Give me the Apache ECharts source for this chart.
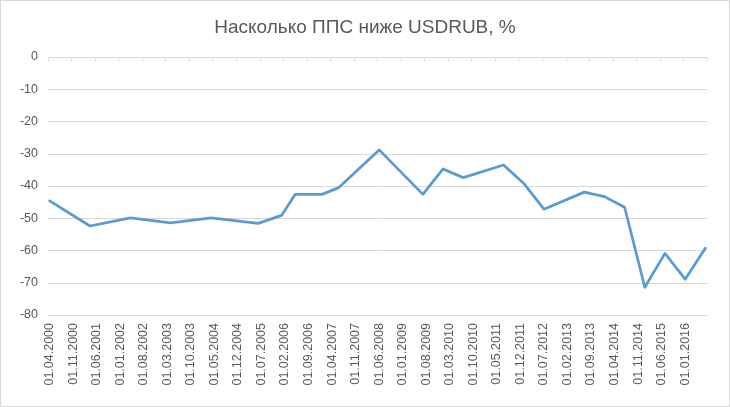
<!DOCTYPE html>
<html>
<head>
<meta charset="utf-8">
<script src="https://cdn.jsdelivr.net/npm/echarts@6/dist/echarts.min.js"></script>
<style>
html,body{margin:0;padding:0;background:#fff;}
#wrap{width:730px;height:407px;box-sizing:border-box;border:1px solid #d9d9d9;}
#chart{width:728px;height:405px;}
</style>
</head>
<body>
<div id="wrap"><div id="chart"></div></div>
<script>
// Axis: monthly slots from 2000-04 to 2016-07, label every 7 months
var axisStart = [2000, 4];
var axisMonths = 196;
var labelEvery = 7;
var pointDates = ["2000-04","2001-04","2002-04","2003-04","2004-04","2005-06","2006-01","2006-05",
  "2007-01","2007-06","2008-06","2009-07","2010-01","2010-07","2011-07","2012-01","2012-07",
  "2013-07","2014-01","2014-07","2015-01","2015-07","2016-01","2016-07"];
var values = [-44.6,-52.4,-49.9,-51.4,-49.9,-51.6,-49.1,-42.6,
  -42.6,-40.5,-28.8,-42.6,-34.7,-37.4,-33.5,-39.2,-47.2,
  -41.9,-43.3,-46.6,-71.4,-60.9,-68.9,-59.3];
var yTicks = {min:-80, max:0, interval:10};
var titleText = "Насколько ППС ниже USDRUB, %";

function pad(n){return (n<10?"0":"")+n;}
var categories = [];
var keyIndex = {};
for (var i=0;i<axisMonths;i++){
  var m0 = axisStart[1]-1+i;
  var y = axisStart[0]+Math.floor(m0/12);
  var m = m0%12+1;
  categories.push("01."+pad(m)+"."+y);
  keyIndex[y+"-"+pad(m)] = i;
}
var seriesData = categories.map(function(){return null;});
pointDates.forEach(function(d,k){ seriesData[keyIndex[d]] = values[k]; });

var labelColor = "#595959";
var font = "Liberation Sans, Arial, sans-serif";
var chart = echarts.init(document.getElementById('chart'));
chart.setOption({
  animation:false,
  title:{text:titleText,left:'center',top:12,textStyle:{color:labelColor,fontSize:19,fontWeight:'normal',fontFamily:font}},
  grid:{left:47,right:22,top:56,bottom:91},
  xAxis:[{
    type:'category',data:categories,boundaryGap:true,position:'bottom',
    axisLine:{show:false},axisTick:{show:false},
    axisLabel:{interval:labelEvery-1,rotate:90,color:labelColor,fontSize:12.5,fontFamily:font,margin:8}
  },{
    type:'category',data:categories,boundaryGap:true,position:'top',
    axisLine:{show:true,lineStyle:{color:'#d9d9d9',width:1}},
    axisTick:{show:true,interval:labelEvery-1,inside:true,length:4,lineStyle:{color:'#d9d9d9'}},
    axisLabel:{show:false}
  }],
  yAxis:{type:'value',min:yTicks.min,max:yTicks.max,interval:yTicks.interval,
    axisLine:{show:false},axisTick:{show:false},
    axisLabel:{color:labelColor,fontSize:12.5,fontFamily:font,margin:10},
    splitLine:{lineStyle:{color:'#d9d9d9',width:1}}
  },
  series:[{type:'line',data:seriesData,connectNulls:true,showSymbol:false,symbol:'none',
    lineStyle:{color:'#5b9bd5',width:2.75,join:'round',cap:'round'}}]
});
</script>
</body>
</html>
